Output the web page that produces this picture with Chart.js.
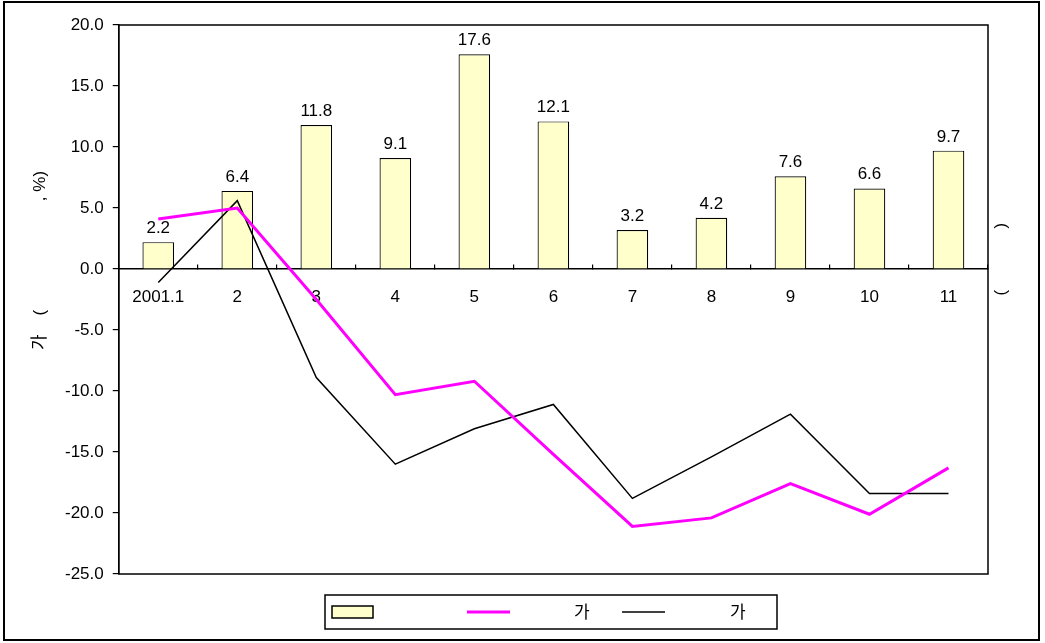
<!DOCTYPE html>
<html>
<head>
<meta charset="utf-8">
<script src="https://cdn.jsdelivr.net/npm/chart.js@4.4.1/dist/chart.umd.min.js"></script>
<style>
  html, body { margin: 0; padding: 0; background: #fff; }
  #wrap { width: 1045px; height: 643px; position: relative; }
</style>
</head>
<body>
<div id="wrap"><canvas id="growth-chart"></canvas></div>
<script>
// monthly figures, 2001.1 - 2001.11
const months = ["2001.1", "2", "3", "4", "5", "6", "7", "8", "9", "10", "11"];
const barValues = [2.2, 6.4, 11.8, 9.1, 17.6, 12.1, 3.2, 4.2, 7.6, 6.6, 9.7];
const pinkValues = [4.1, 5.0, -2.5, -10.3, -9.2, -15.2, -21.1, -20.4, -17.6, -20.1, -16.3];
const blackValues = [-1.1, 5.6, -8.9, -16.0, -13.1, -11.1, -18.8, -15.4, -11.9, -18.4, -18.4];

const yMin = -25, yMax = 20, yStep = 5;

const leftTitle = "가    (                       , %)";
const rightTitle = "(             )";

const FONT = "'Liberation Sans', Arial, 'Noto Sans CJK KR', sans-serif";
Chart.defaults.font.family = FONT;
Chart.defaults.font.size = 17;
Chart.defaults.color = "#000";

const BAR_FILL = "#FFFFCC";
const PINK = "#FF00FF";

// frame, titles, value labels and the boxed legend
const decorations = {
  id: "decorations",
  beforeDraw(chart) {
    const ctx = chart.ctx;
    ctx.save();
    ctx.fillStyle = "#fff";
    ctx.fillRect(0, 0, chart.width, chart.height);
    ctx.restore();
  },
  afterDraw(chart) {
    const ctx = chart.ctx;
    const a = chart.chartArea;
    ctx.save();

    // outer border
    ctx.strokeStyle = "#000";
    ctx.lineWidth = 2;
    ctx.strokeRect(4, 2, 1035, 638);

    // plot frame
    ctx.lineWidth = 1.5;
    ctx.strokeRect(a.left, a.top, a.right - a.left, a.bottom - a.top);

    // values above bars
    ctx.font = "17px " + FONT;
    ctx.fillStyle = "#000";
    ctx.textAlign = "center";
    ctx.textBaseline = "alphabetic";
    chart.getDatasetMeta(0).data.forEach((bar, i) => {
      ctx.fillText(barValues[i].toFixed(1), bar.x, bar.y - 9);
    });

    // left axis title, reading upwards
    ctx.save();
    ctx.translate(40, 350);
    ctx.rotate(-Math.PI / 2);
    ctx.textAlign = "left";
    ctx.textBaseline = "middle";
    ctx.fillText(leftTitle, 0, 0);
    ctx.restore();

    // right side title, reading downwards
    ctx.save();
    ctx.translate(1002, 223);
    ctx.rotate(Math.PI / 2);
    ctx.textAlign = "left";
    ctx.textBaseline = "middle";
    ctx.fillText(rightTitle, 0, 0);
    ctx.restore();

    // legend
    const lg = chart.options.plugins.decorations.legend;
    ctx.lineWidth = 1.5;
    ctx.strokeStyle = "#000";
    ctx.strokeRect(lg.x, lg.y, lg.w, lg.h);
    const midY = lg.y + lg.h / 2;
    chart.data.datasets.forEach((ds, i) => {
      const it = lg.items[i];
      if (ds.type === "bar") {
        ctx.fillStyle = ds.backgroundColor;
        ctx.fillRect(it.sx, midY - 6, it.sw, 12);
        ctx.strokeStyle = "#000";
        ctx.lineWidth = 1.5;
        ctx.strokeRect(it.sx, midY - 6, it.sw, 12);
      } else {
        ctx.strokeStyle = ds.borderColor;
        ctx.lineWidth = ds.borderWidth;
        ctx.beginPath();
        ctx.moveTo(it.sx, midY);
        ctx.lineTo(it.sx + it.sw, midY);
        ctx.stroke();
      }
      ctx.fillStyle = "#000";
      ctx.textAlign = "left";
      ctx.textBaseline = "middle";
      ctx.fillText(ds.label, it.tx, midY + 1);
    });

    ctx.restore();
  }
};

new Chart(document.getElementById("growth-chart"), {
  data: {
    labels: months,
    datasets: [
      {
        type: "bar",
        label: "",
        data: barValues,
        backgroundColor: BAR_FILL,
        borderColor: "#000",
        borderWidth: 1.2,
        barPercentage: 0.4,
        categoryPercentage: 1.0,
        order: 2
      },
      {
        type: "line",
        label: "가",
        data: pinkValues,
        borderColor: PINK,
        borderWidth: 3,
        pointRadius: 0,
        tension: 0,
        fill: false,
        order: 0
      },
      {
        type: "line",
        label: "가",
        data: blackValues,
        borderColor: "#000",
        borderWidth: 1.5,
        pointRadius: 0,
        tension: 0,
        fill: false,
        order: 1
      }
    ]
  },
  options: {
    responsive: true,
    maintainAspectRatio: false,
    animation: false,
    layout: { padding: { left: 56, right: 57, top: 25, bottom: 69 } },
    plugins: {
      legend: { display: false },
      tooltip: { enabled: false },
      decorations: {
        legend: {
          x: 325, y: 595, w: 452, h: 34,
          items: [
            { sx: 332, sw: 41, tx: 380 },
            { sx: 467, sw: 43, tx: 574 },
            { sx: 622, sw: 43, tx: 730 }
          ]
        }
      }
    },
    scales: {
      x: {
        position: { y: 0 },
        offset: true,
        grid: {
          offset: true,
          drawOnChartArea: false,
          drawTicks: true,
          tickLength: -5,
          color: "#000",
          lineWidth: 1.2
        },
        border: { display: true, color: "#000", width: 1.5 },
        ticks: { padding: 23, maxRotation: 0, autoSkip: false, font: { size: 17 } }
      },
      y: {
        min: yMin,
        max: yMax,
        grid: {
          drawOnChartArea: false,
          drawTicks: true,
          tickLength: 6,
          color: "#000",
          lineWidth: 1.2
        },
        border: { display: true, color: "#000", width: 1.5 },
        ticks: {
          stepSize: yStep,
          padding: 9,
          font: { size: 17 },
          callback: v => Number(v).toFixed(1)
        }
      }
    }
  },
  plugins: [decorations]
});
</script>
</body>
</html>
